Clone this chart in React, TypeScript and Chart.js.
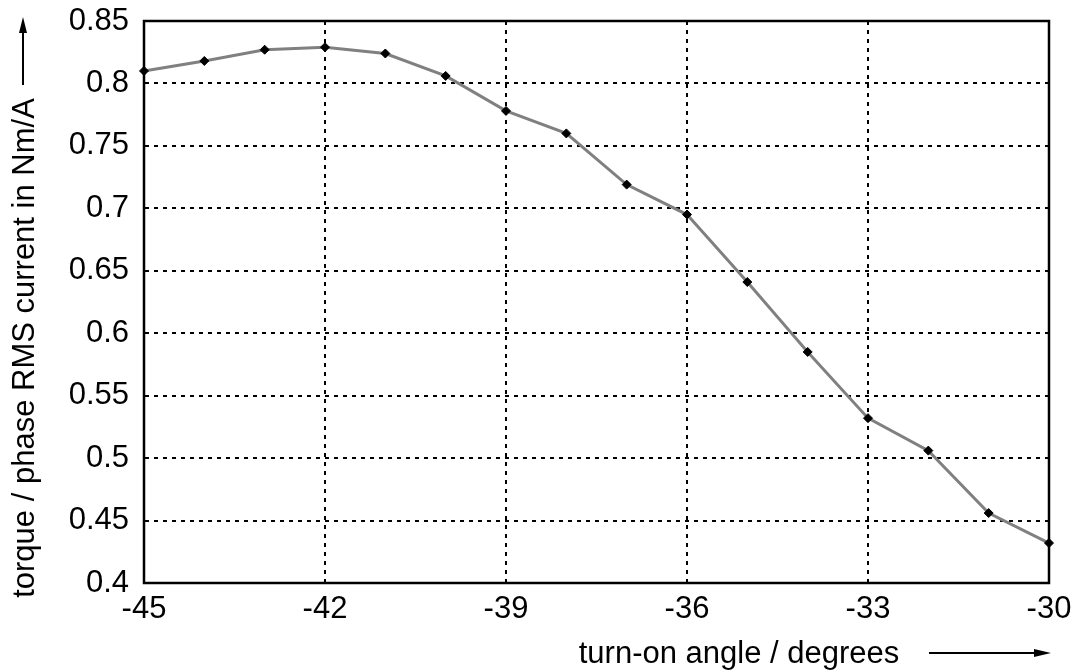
import React, { useEffect, useRef } from "react";
import { Chart, registerables } from "chart.js";

Chart.register(...registerables);

const angles = [-45, -44, -43, -42, -41, -40, -39, -38, -37, -36, -35, -34, -33, -32, -31, -30];
const torquePerAmp = [0.810, 0.818, 0.827, 0.829, 0.824, 0.806, 0.778, 0.760, 0.719, 0.695, 0.641, 0.585, 0.532, 0.506, 0.456, 0.432];
const xTicks = [-45, -42, -39, -36, -33, -30];
const yTicks = [0.4, 0.45, 0.5, 0.55, 0.6, 0.65, 0.7, 0.75, 0.8, 0.85];
const xTitle = "turn-on angle / degrees";
const yTitle = "torque / phase RMS current in Nm/A";

const FONT_FAMILY = "'Liberation Sans', Arial, Helvetica, sans-serif";
const FONT_SIZE = 31;

const framePlugin = {
  id: "frameAndTitles",
  beforeDatasetsDraw(chart: any) {
    const { ctx, chartArea } = chart;
    ctx.save();
    ctx.strokeStyle = "#000";
    ctx.lineWidth = 2.5;
    ctx.setLineDash([]);
    ctx.strokeRect(chartArea.left, chartArea.top, chartArea.right - chartArea.left, chartArea.bottom - chartArea.top);
    ctx.restore();
  },
  afterDraw(chart: any) {
    const { ctx } = chart;
    ctx.save();
    ctx.fillStyle = "#000";
    ctx.strokeStyle = "#000";
    ctx.font = `${FONT_SIZE}px ${FONT_FAMILY}`;
    // x title
    ctx.textAlign = "center";
    ctx.textBaseline = "alphabetic";
    ctx.fillText(xTitle, 739, 663);
    // x arrow
    ctx.lineWidth = 2;
    ctx.beginPath();
    ctx.moveTo(929, 653);
    ctx.lineTo(1040, 653);
    ctx.stroke();
    ctx.beginPath();
    ctx.moveTo(1051, 653);
    ctx.lineTo(1034, 649);
    ctx.lineTo(1034, 657);
    ctx.closePath();
    ctx.fill();
    // y title
    ctx.save();
    ctx.translate(34, 348);
    ctx.rotate(-Math.PI / 2);
    ctx.textAlign = "center";
    ctx.textBaseline = "alphabetic";
    ctx.fillText(yTitle, 0, 0);
    ctx.restore();
    // y arrow
    ctx.beginPath();
    ctx.moveTo(23, 85);
    ctx.lineTo(23, 28);
    ctx.stroke();
    ctx.beginPath();
    ctx.moveTo(23, 17);
    ctx.lineTo(19, 33);
    ctx.lineTo(27, 33);
    ctx.closePath();
    ctx.fill();
    ctx.restore();
  },
};

export default function App() {
  const canvasRef = useRef<HTMLCanvasElement | null>(null);

  useEffect(() => {
    const canvas = canvasRef.current;
    if (!canvas) return;
    const chart = new Chart(canvas, {
      type: "line",
      data: {
        datasets: [
          {
            data: angles.map((a, i) => ({ x: a, y: torquePerAmp[i] })),
            borderColor: "#808080",
            borderWidth: 3,
            pointStyle: "rectRot",
            pointRadius: 4.5,
            pointBackgroundColor: "#000",
            pointBorderColor: "#000",
            pointBorderWidth: 1,
            tension: 0,
            fill: false,
            clip: false,
          },
        ],
      },
      options: {
        responsive: false,
        animation: false,
        events: [],
        layout: { padding: { left: 0, top: 21, right: 28, bottom: 0 } },
        plugins: {
          legend: { display: false },
          tooltip: { enabled: false },
          title: { display: false },
        },
        scales: {
          x: {
            type: "linear",
            min: -45,
            max: -30,
            afterBuildTicks: (scale: any) => {
              scale.ticks = xTicks.map((v) => ({ value: v }));
            },
            afterFit: (scale: any) => {
              scale.height = 89;
              scale.paddingLeft = 0;
              scale.paddingRight = 0;
              scale.paddingTop = 0;
              scale.paddingBottom = 0;
            },
            grid: {
              color: "#000",
              lineWidth: 2,
              drawTicks: false,
              tickLength: 0,
            },
            border: { display: true, color: "#000", width: 2, dash: [4, 5] },
            ticks: {
              color: "#000",
              font: { family: FONT_FAMILY, size: FONT_SIZE },
              padding: 8,
              maxRotation: 0,
              autoSkip: false,
              callback: (v: any) => String(v),
            },
          },
          y: {
            type: "linear",
            min: 0.4,
            max: 0.85,
            afterBuildTicks: (scale: any) => {
              scale.ticks = yTicks.map((v) => ({ value: v }));
            },
            afterFit: (scale: any) => {
              scale.width = 144;
              scale.paddingLeft = 0;
              scale.paddingRight = 0;
              scale.paddingTop = 0;
              scale.paddingBottom = 0;
            },
            grid: {
              color: "#000",
              lineWidth: 2,
              drawTicks: false,
              tickLength: 0,
            },
            border: { display: true, color: "#000", width: 2, dash: [4, 5] },
            ticks: {
              color: "#000",
              font: { family: FONT_FAMILY, size: FONT_SIZE },
              padding: 15,
              autoSkip: false,
              callback: (v: any) => String(parseFloat(Number(v).toFixed(2))),
            },
          },
        },
      },
      plugins: [framePlugin],
    });
    return () => chart.destroy();
  }, []);

  return (
    <div style={{ position: "fixed", left: 0, top: 0, width: 1077, height: 672, background: "#fff" }}>
      <canvas ref={canvasRef} width={1077} height={672} style={{ display: "block" }} />
    </div>
  );
}
